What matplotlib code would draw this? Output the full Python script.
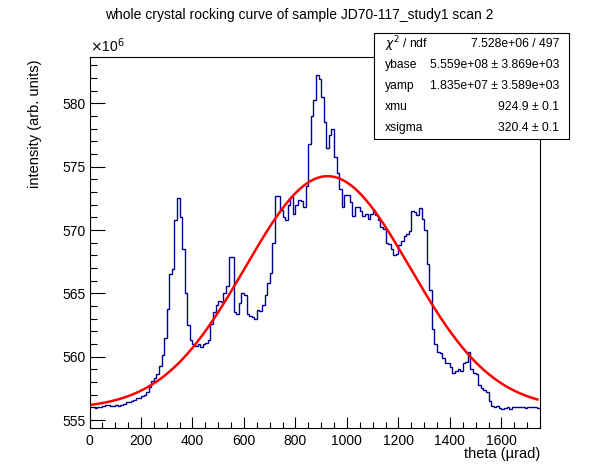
import numpy as np
import matplotlib
matplotlib.use("Agg")
import matplotlib.pyplot as plt
from matplotlib.patches import Rectangle
from matplotlib.ticker import MultipleLocator

plt.rcParams['font.family'] = ['Liberation Sans', 'DejaVu Sans']

# histogram: 10 urad bins from 10 to 1750, intensity in units of 1e6
bin_lo = 10
bin_w = 10
counts = [
    556.05, 555.98, 556.05, 556.0, 556.1, 556.2, 556.15, 556.1, 556.12,
    556.2, 556.1, 556.15, 556.3, 556.4, 556.45, 556.5, 556.6, 556.7, 556.75,
    556.9, 557.0, 557.2, 557.6, 558.1, 558.3, 558.6, 559.3, 560.1, 561.5,
    563.8, 566.5, 566.9, 570.8, 572.5, 571.0, 568.5, 565.0, 562.5, 561.3,
    561.0, 560.85, 561.0, 560.8, 561.0, 561.1, 561.3, 562.6, 563.5, 564.1,
    564.4, 564.3, 565.0, 565.6, 567.9, 567.9, 563.5, 563.4, 564.2, 565.05,
    564.9, 563.4, 563.2, 563.1, 563.0, 563.7, 563.6, 564.1, 564.9, 565.8,
    566.6, 569.0, 572.7, 572.7, 571.6, 571.0, 570.8, 572.0, 572.6, 571.3,
    572.0, 572.4, 572.3, 571.8, 573.5, 576.8, 579.0, 580.3, 582.2, 581.9,
    580.5, 578.5, 576.5, 577.5, 578.0, 575.8, 574.5, 573.2, 571.85, 572.8,
    572.8, 572.2, 571.1, 571.8, 571.8, 571.5, 571.1, 571.3, 570.9, 571.3,
    571.6, 571.2, 570.8, 570.2, 570.1, 569.0, 568.9, 568.5, 568.0, 568.1,
    568.8, 569.1, 569.5, 569.7, 569.9, 571.5, 571.4, 571.2, 571.7, 570.9,
    570.0, 567.3, 565.3, 562.2, 561.0, 560.4, 560.3, 559.9, 559.5, 559.5,
    559.2, 558.7, 558.9, 559.0, 558.9, 559.5, 559.6, 560.4, 559.0, 558.7,
    558.6, 557.8, 557.5, 557.35, 557.2, 556.5, 556.1, 556.05, 556.1, 555.95,
    555.9, 555.95, 556.0, 555.9, 556.05, 556.0, 556.05, 556.0, 556.05, 555.95,
    556.0, 556.05, 556.0, 556.05, 555.95,
]

# fit results (from the stats box)
ybase = 5.559e8
yamp = 1.835e7
xmu = 924.9
xsigma = 320.4
fit_lo, fit_hi = 10, 1740

title = "whole crystal rocking curve of sample JD70-117_study1 scan 2"
stats = [
    ("$\\chi^2$ / ndf", "7.528e+06 / 497"),
    ("ybase", "5.559e+08 \u00b1 3.869e+03"),
    ("yamp", "1.835e+07 \u00b1 3.589e+03"),
    ("xmu", "924.9 \u00b1 0.1"),
    ("xsigma", "320.4 \u00b1 0.1"),
]

W, H = 598, 474
fig = plt.figure(figsize=(W / 100, H / 100), dpi=100)
L, R, T, B = 89.5, 540, 56.7, 427.5
ax = fig.add_axes([L / W, 1 - B / H, (R - L) / W, (B - T) / H])

edges = bin_lo + bin_w * np.arange(len(counts) + 1)
ax.stairs(counts, edges, color="#000099", lw=1.0, baseline=None)

xf = np.linspace(fit_lo, fit_hi, 500)
yf = (ybase + yamp * np.exp(-0.5 * ((xf - xmu) / xsigma) ** 2)) / 1e6
ax.plot(xf, yf, color="red", lw=1.8)

ax.set_xlim(0, 1750)
ax.set_ylim(554.41, 583.68)
ax.xaxis.set_major_locator(MultipleLocator(200))
ax.xaxis.set_minor_locator(MultipleLocator(50))
ax.yaxis.set_major_locator(MultipleLocator(5))
ax.yaxis.set_minor_locator(MultipleLocator(1))
ax.tick_params(which="both", direction="in", top=False, right=False, labelsize=10)
ax.tick_params(axis="y", which="major", length=10.6, width=0.8, pad=3)
ax.tick_params(axis="y", which="minor", length=5.3, width=0.8)
ax.tick_params(axis="x", which="major", length=8.2, width=0.8, pad=5)
ax.tick_params(axis="x", which="minor", length=4.1, width=0.8)
for s in ax.spines.values():
    s.set_linewidth(0.8)

fig.text(L / W, 1 - 55 / H, "$\\times$10$^6$", fontsize=10, ha="left", va="bottom")
fig.text(0.5, 1 - 15 / H, title, fontsize=10, ha="center", va="center")
fig.text(35 / W, 1 - 60 / H, "intensity (arb. units)", fontsize=10.5,
         rotation=90, ha="center", va="top")
fig.text(R / W, 1 - 454 / H, "theta (\u00b5rad)", fontsize=10.5, ha="right", va="center")

# stats box
bx0, bx1, by0, by1 = 374.3, 569, 33.3, 139
fig.patches.append(Rectangle((bx0 / W, 1 - by1 / H), (bx1 - bx0) / W, (by1 - by0) / H,
                             transform=fig.transFigure, fc="white", ec="black", lw=0.8,
                             zorder=5))
rh = (by1 - by0) / len(stats)
for i, (k, v) in enumerate(stats):
    yc = 1 - (by0 + rh * (i + 0.5)) / H
    fig.text(385 / W, yc, k, fontsize=8.7, ha="left", va="center", zorder=6)
    fig.text(559 / W, yc, v, fontsize=8.7, ha="right", va="center", zorder=6)

fig.savefig("out.png", dpi=100)
